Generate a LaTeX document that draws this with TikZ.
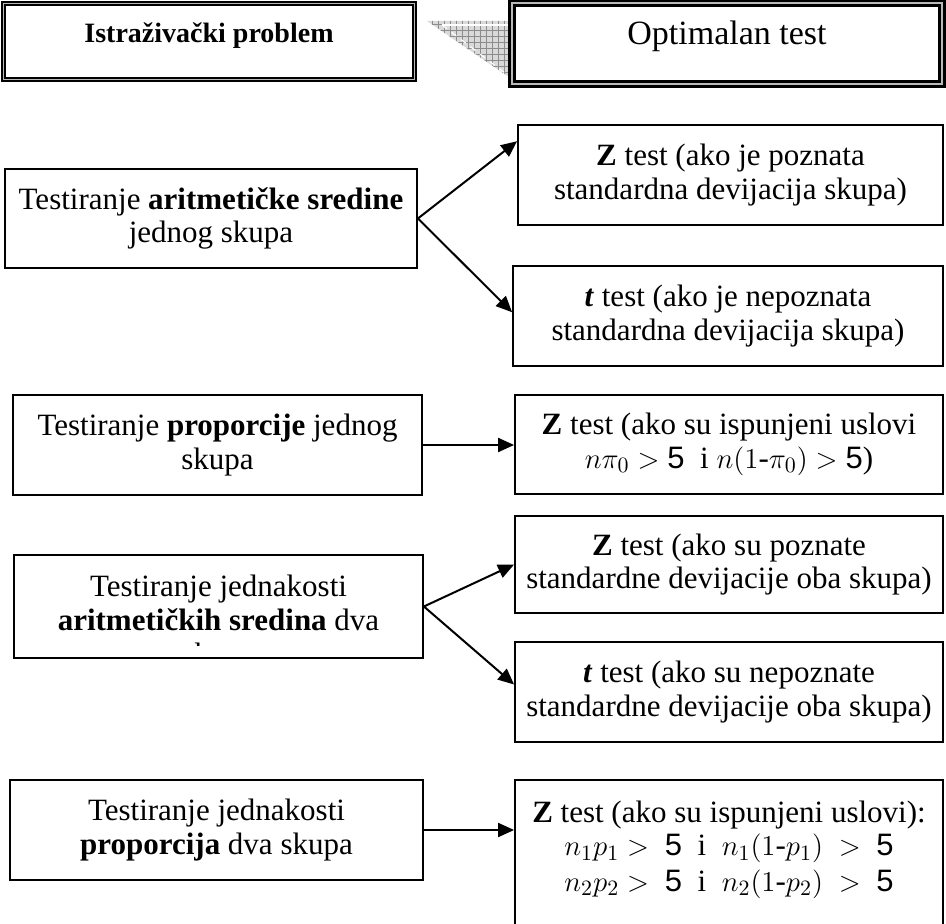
\documentclass[tikz,border=0pt]{standalone}
\usepackage{amsmath}
\usepackage{fontspec}
\setmainfont{Liberation Serif}
\setsansfont{Liberation Sans}
\usepackage{tikz}
\usetikzlibrary{arrows.meta}
\usetikzlibrary{patterns}
\newcommand{\pet}{\text{\sffamily 5}}
\tikzset{
    TestBox/.style={draw,line width=0.9pt,fill=white,align=center,inner sep=2pt,font=\fontsize{15.5}{16.8}\selectfont},
    HeadBox/.style={TestBox,line width=1.1pt,double=gray!55,double distance=0.5pt},
    TestArrow/.style={line width=1pt,-{Triangle[length=8pt,width=7pt]}}
}

\begin{document}
\begin{tikzpicture}[x=0.5pt,y=-0.5pt]
            \useasboundingbox (0,0) rectangle (946,924);

            % naslovi
            \path[pattern=grid,pattern color=gray!90,preaction={fill=gray!30}] (427,21) -- (522,21) -- (522,86) -- cycle;
            \draw[white,line width=0.6pt] (442,25) -- (518,25);
            \draw[white,line width=0.6pt,dashed] (442,25) -- (514,80);
            \node[HeadBox,font=\bfseries\fontsize{14}{16}\selectfont,text depth=9pt,minimum width=205.5pt,minimum height=38pt] (problem) at (209,41.5) {Istraživački problem};
            \node[HeadBox,line width=1.6pt,double distance=0.6pt,font=\fontsize{17}{19}\selectfont,text depth=11pt,minimum width=215pt,minimum height=40.5pt] (test) at (727,43.5) {Optimalan test};

            % aritmeticka sredina jednog skupa
            \node[TestBox,minimum width=206pt,minimum height=49.5pt] (sred) at (211,218.5) {Testiranje \textbf{aritmetičke sredine}\\ jednog skupa};
            \node[TestBox,minimum width=212.5pt,minimum height=50pt] (sredZ) at (730.5,175) {\textbf{Z} test (ako je poznata\\ standardna devijacija skupa)};
            \node[TestBox,minimum width=215pt,minimum height=50pt] (sredT) at (728,316) {\textbf{\textit{t}} test (ako je nepoznata\\ standardna devijacija skupa)};
            \draw[TestArrow] (sred.east) -- (sredZ.171);
            \draw[TestArrow] (sred.east) -- (sredT.179);

            % proporcija jednog skupa
            \node[TestBox,minimum width=204.5pt,minimum height=50pt] (prop) at (217.5,445) {Testiranje \textbf{proporcije} jednog\\ skupa};
            \node[TestBox,minimum width=214pt,minimum height=49.5pt] (propZ) at (729,444.5) {\textbf{Z} test (ako su ispunjeni uslovi\\ $n\pi_0 > \pet$\ \ i $n(1\text{-}\pi_0) > \pet$)};
            \draw[TestArrow] (prop.east) -- (prop.east -| propZ.west);

            % aritmeticke sredine dva skupa
            \begin{scope}
                \clip (14,555) rectangle (423,645);
                \node[align=center,font=\fontsize{15.5}{16.8}\selectfont] (sredDvaTxt) at (218.5,623) {Testiranje jednakosti\\ \textbf{aritmetičkih sredina} dva\\ skupa};
            \end{scope}
            \node[draw,line width=0.9pt,minimum width=204.5pt,minimum height=51.5pt] (sredDva) at (218.5,606.5) {};
            \node[TestBox,minimum width=214pt,minimum height=48.5pt] (sredDvaZ) at (729,564.5) {\textbf{Z} test (ako su poznate\\ standardne devijacije oba skupa)};
            \node[TestBox,minimum width=214pt,minimum height=50pt] (sredDvaT) at (729,692) {\textbf{\textit{t}} test (ako su nepoznate\\ standardne devijacije oba skupa)};
            \draw[TestArrow] (sredDva.east) -- (sredDvaZ.west);
            \draw[TestArrow] (sredDva.east) -- (sredDvaT.178);

            % proporcije dva skupa
            \node[TestBox,minimum width=206.5pt,minimum height=50pt] (propDva) at (216.5,830) {Testiranje jednakosti\\ \textbf{proporcija} dva skupa};
            \node[TestBox,minimum width=214pt,minimum height=77pt] (propDvaZ) at (729,857) {\textbf{Z} test (ako su ispunjeni uslovi):\\ $n_1p_1 >\ \pet$\ \ i\ \ $n_1(1\text{-}p_1)\ >\ \pet$\\[1pt] $n_2p_2 >\ \pet$\ \ i\ \ $n_2(1\text{-}p_2)\ >\ \pet$\\[-6pt]\mbox{}};
            \draw[TestArrow] (propDva.east) -- (propDva.east -| propDvaZ.west);
        \end{tikzpicture}
\end{document}
